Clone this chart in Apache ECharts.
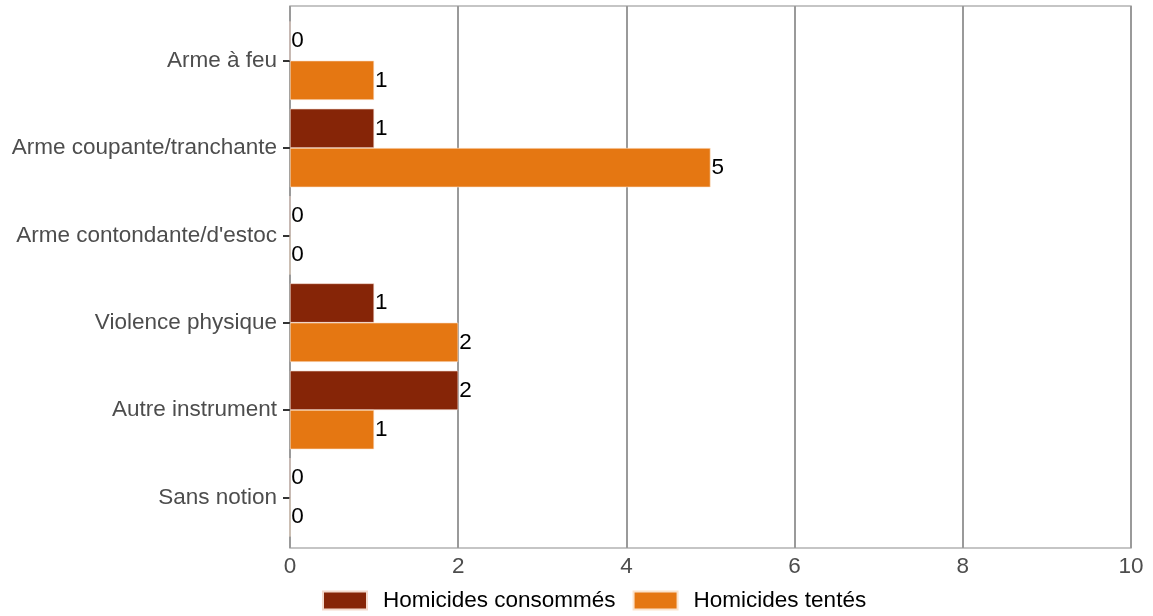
<!DOCTYPE html>
<html><head><meta charset="utf-8">
<script src="https://cdn.jsdelivr.net/npm/echarts@6/dist/echarts.min.js"></script>
<style>html,body{margin:0;padding:0;background:#fff}#c{width:1153px;height:616px}</style>
</head><body><div id="c"></div>
<script>
const categories = ["Arme à feu","Arme coupante/tranchante","Arme contondante/d'estoc","Violence physique","Autre instrument","Sans notion"];
const consommes = [0,1,0,1,2,0];
const tentes = [1,5,0,2,1,0];
const seriesNames = ["Homicides consommés","Homicides tentés"];
const xTicks = [0,2,4,6,8,10];

const chart = echarts.init(document.getElementById('c'));
const font = 'Liberation Sans, Arial, sans-serif';
const lbl = {show:true, position:'right', distance:1, color:'#000', fontSize:22.5, fontFamily:font};
chart.setOption({
  animation:false,
  grid:[
    {left:290, right:22, top:6, bottom:68, show:true, borderColor:'#b3b3b3', borderWidth:1.5},
    {left:290, right:22, top:17, bottom:75}
  ],
  legend:{top:589, left:322, itemWidth:44, itemHeight:18, itemGap:17, icon:'rect', padding:0,
    textStyle:{fontSize:22.5, color:'#000', fontFamily:font, padding:[0,0,0,11]},
    data:seriesNames},
  xAxis:[
    {gridIndex:0, type:'value', min:xTicks[0], max:xTicks[xTicks.length-1], interval:2,
      axisLine:{show:false}, axisTick:{show:false},
      axisLabel:{color:'#4d4d4d', fontSize:22.5, fontFamily:font, margin:7},
      splitLine:{show:true, lineStyle:{color:'#9a9a9a', width:2}}},
    {gridIndex:1, type:'value', min:xTicks[0], max:xTicks[xTicks.length-1], show:false}
  ],
  yAxis:[
    {gridIndex:0, type:'value', show:false},
    {gridIndex:1, type:'category', data:categories, inverse:true,
      axisLine:{show:false},
      axisTick:{show:true, length:7, lineStyle:{color:'#333', width:2}, alignWithLabel:true},
      axisLabel:{color:'#4d4d4d', fontSize:22.5, fontFamily:font, margin:13}}
  ],
  series:[
    {name:seriesNames[0], type:'bar', xAxisIndex:1, yAxisIndex:1, data:consommes, barGap:'0%', barCategoryGap:'10%',
      itemStyle:{color:'#862507', borderColor:'#f3d9cc', borderWidth:0.6}, label:lbl},
    {name:seriesNames[1], type:'bar', xAxisIndex:1, yAxisIndex:1, data:tentes, barGap:'0%', barCategoryGap:'10%',
      itemStyle:{color:'#e57712', borderColor:'#fbe3cc', borderWidth:0.6}, label:lbl}
  ]
});
</script></body></html>
